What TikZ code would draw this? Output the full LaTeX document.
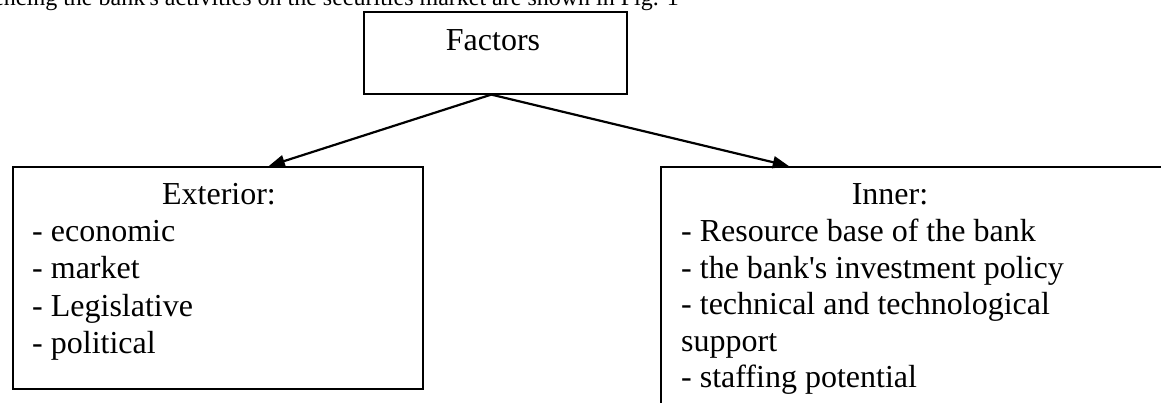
\documentclass[tikz,border=0pt]{standalone}
\usepackage{fontspec}
\setmainfont{Liberation Serif}
\usepackage{tikz}
\usetikzlibrary{arrows.meta}

\begin{document}
\begin{tikzpicture}[x=1pt, y=-1pt,
        every node/.style={font=\fontsize{32}{37}\selectfont, inner sep=0pt},
        box/.style={draw, line width=1.6pt, rectangle, anchor=north west},
        item/.style={anchor=base west},
        arrow/.style={line width=2.2pt, -{Triangle[length=16pt, width=12pt]}}]
        \useasboundingbox (0,0) rectangle (1161,403);
        \clip (0,0) rectangle (1161,403);

        \node[anchor=base east, font=\fontsize{24}{28}\selectfont] (caption) at (679,6)
            {influencing the bank\textquotesingle s activities on the securities market are shown in Fig. 1};

        \node[box, minimum width=263, minimum height=82] (factors) at (363,11) {};
        \node[anchor=base] (factorstitle) at (493,51) {Factors};

        \node[box, minimum width=410, minimum height=222] (exterior) at (12,166) {};
        \node[anchor=base] (extitle) at (219,205) {Exterior:};
        \foreach \txt [count=\i] in {- economic, - market, - Legislative, - political}
            \node[item] (ex\i) at (32,205+37*\i) {\txt};

        \node[box, minimum width=520, minimum height=260] (inner) at (660,166) {};
        \node[anchor=base] (intitle) at (890,205) {Inner:};
        \foreach \txt [count=\i] in {- Resource base of the bank, - the bank\textquotesingle s investment policy,
                - technical and technological, support, - staffing potential}
            \node[item] (in\i) at (681,205+36.5*\i) {\txt};

        \draw[arrow] ([xshift=-4pt]factors.south) -- ([xshift=51pt]exterior.north);
        \draw[arrow] ([xshift=-4pt]factors.south) -- ([xshift=-132pt]inner.north);
    \end{tikzpicture}
\end{document}
